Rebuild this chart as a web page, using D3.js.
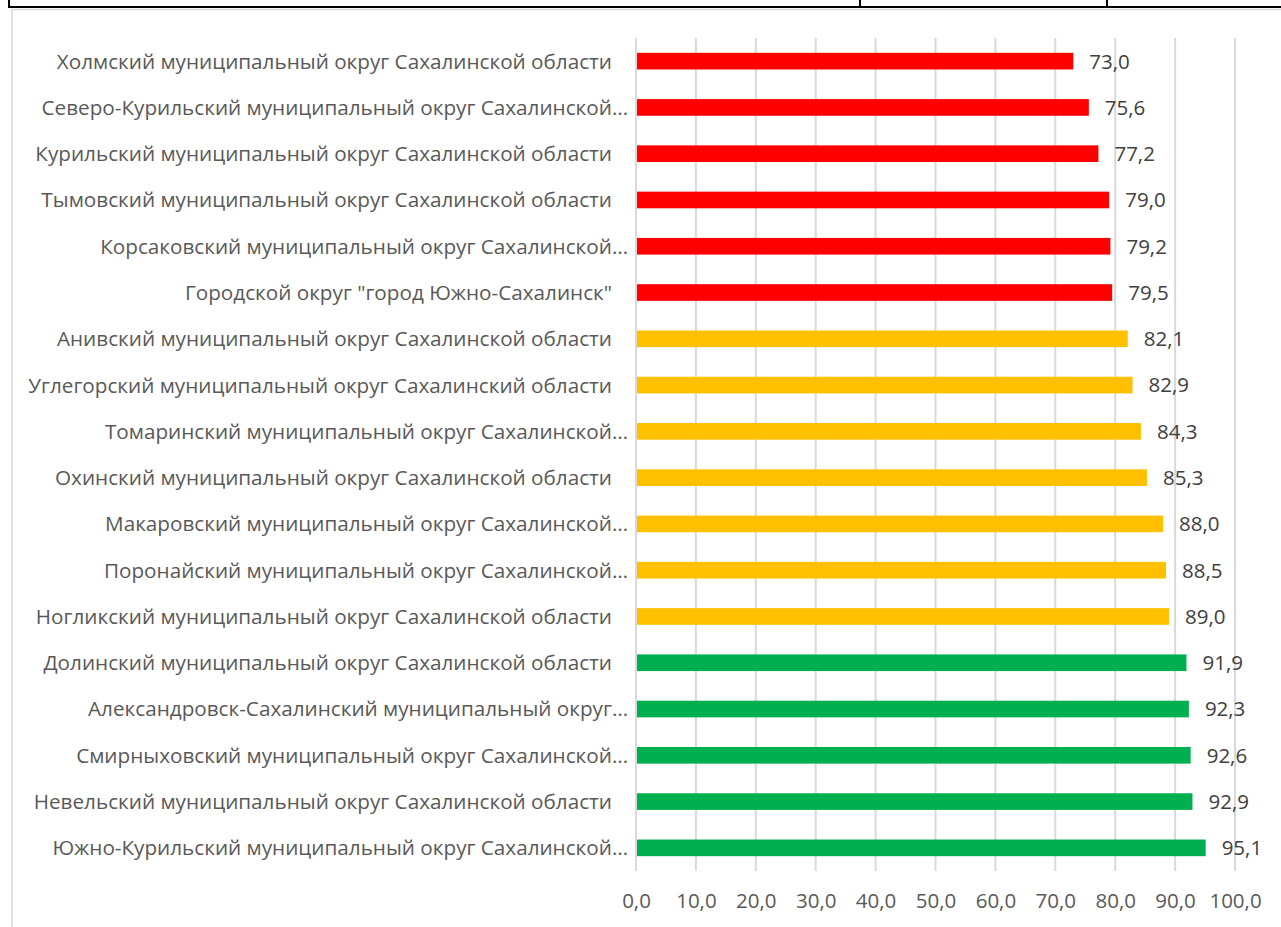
<!DOCTYPE html>
<html>
<head>
<meta charset="utf-8">
<script src="https://cdn.jsdelivr.net/npm/d3@7"></script>
<style>
  body { margin: 0; background: #fff; }
  svg { display: block; }
</style>
</head>
<body>
<div id="chart"></div>
<script>
// data
var districts = [
  "Холмский муниципальный округ Сахалинской области",
  "Северо-Курильский муниципальный округ Сахалинской…",
  "Курильский муниципальный округ Сахалинской области",
  "Тымовский муниципальный округ Сахалинской области",
  "Корсаковский муниципальный округ Сахалинской…",
  "Городской округ \"город Южно-Сахалинск\"",
  "Анивский муниципальный округ Сахалинской области",
  "Углегорский муниципальный округ Сахалинский области",
  "Томаринский муниципальный округ Сахалинской…",
  "Охинский муниципальный округ Сахалинской области",
  "Макаровский муниципальный округ Сахалинской…",
  "Поронайский муниципальный округ Сахалинской…",
  "Ногликский муниципальный округ Сахалинской области",
  "Долинский муниципальный округ Сахалинской области",
  "Александровск-Сахалинский муниципальный округ…",
  "Смирныховский муниципальный округ Сахалинской…",
  "Невельский муниципальный округ Сахалинской области",
  "Южно-Курильский муниципальный округ Сахалинской…"
];
var values = [73.0, 75.6, 77.2, 79.0, 79.2, 79.5, 82.1, 82.9, 84.3, 85.3, 88.0, 88.5, 89.0, 91.9, 92.3, 92.6, 92.9, 95.1];
// zone of each district: 0 red, 1 yellow, 2 green
var zones = [0, 0, 0, 0, 0, 0, 1, 1, 1, 1, 1, 1, 1, 2, 2, 2, 2, 2];
var zoneColors = ["#FF0000", "#FFC000", "#00B050"];
var ticks = [0, 10, 20, 30, 40, 50, 60, 70, 80, 90, 100];

var W = 1281, H = 927;
var m = {t:38, r:46, b:56, l:636};

var rows = districts.map(function(d, i){
  return {name: d, value: values[i], zone: zones[i]};
});

var svg = d3.select("#chart")
  .append("svg")
  .attr("width", W)
  .attr("height", H);

// table frame above the chart
svg.append("line")
  .attr("x1", 9).attr("x2", W)
  .attr("y1", 7).attr("y2", 7)
  .style("stroke", "#000").style("stroke-width", 2);
[9, 860, 1107].forEach(function(x){
  svg.append("line")
    .attr("x1", x).attr("x2", x)
    .attr("y1", 0).attr("y2", 8)
    .style("stroke", "#000").style("stroke-width", 2);
});

// chart area border
svg.append("rect")
  .attr("x", 12).attr("y", 9.5)
  .attr("width", W + 10).attr("height", H + 10)
  .style("fill", "none")
  .style("stroke", "#d9d9d9")
  .style("stroke-width", 1.5);

var scaleX = d3.scaleLinear()
  .domain([0, 100])
  .range([m.l, W - m.r]);

var scaleY = d3.scaleBand()
  .domain(districts)
  .range([m.t, H - m.b])
  .paddingInner(0.64)
  .paddingOuter(0.32);

// vertical gridlines
svg.append("g")
  .attr("class", "grid")
  .selectAll("line")
  .data(ticks)
  .enter()
  .append("line")
  .attr("x1", function(d){ return scaleX(d); })
  .attr("x2", function(d){ return scaleX(d); })
  .attr("y1", m.t)
  .attr("y2", H - m.b)
  .style("stroke", "#d9d9d9")
  .style("stroke-width", 2);

// bottom axis, labels only
var axisX = d3.axisBottom()
  .scale(scaleX)
  .tickValues(ticks)
  .tickSize(0)
  .tickPadding(22)
  .tickFormat(function(d){ return d3.format(".1f")(d).replace(".", ","); });

svg.append("g")
  .attr("transform", "translate(0," + (H - m.b) + ")")
  .call(axisX)
  .call(function(g){ g.select(".domain").remove(); })
  .selectAll("text")
  .attr("font-family", "'Open Sans', sans-serif")
  .attr("font-size", "20.5px")
  .style("fill", "#595959");

// bars
svg.selectAll(".bar")
  .data(rows)
  .enter()
  .append("rect")
  .attr("class", "bar")
  .attr("x", scaleX(0) + 1)
  .attr("y", function(d){ return scaleY(d.name); })
  .attr("width", function(d){ return scaleX(d.value) - scaleX(0) - 1; })
  .attr("height", scaleY.bandwidth())
  .style("fill", function(d){ return zoneColors[d.zone]; });

// value labels
svg.selectAll(".val")
  .data(rows)
  .enter()
  .append("text")
  .attr("class", "val")
  .attr("x", function(d){ return scaleX(d.value) + 16; })
  .attr("y", function(d){ return scaleY(d.name) + scaleY.bandwidth() / 2; })
  .attr("dy", "0.36em")
  .attr("font-family", "'Open Sans', sans-serif")
  .attr("font-size", "20.5px")
  .style("fill", "#404040")
  .text(function(d){ return d3.format(".1f")(d.value).replace(".", ","); });

// category labels
svg.selectAll(".cat")
  .data(rows)
  .enter()
  .append("text")
  .attr("class", "cat")
  .attr("x", function(d){ return d.name.slice(-1) == "…" ? 628 : 612; })
  .attr("y", function(d){ return scaleY(d.name) + scaleY.bandwidth() / 2; })
  .attr("dy", "0.36em")
  .attr("text-anchor", "end")
  .attr("font-family", "'Open Sans', sans-serif")
  .attr("font-size", "20.7px")
  .style("fill", "#595959")
  .text(function(d){ return d.name; });
</script>
</body>
</html>
